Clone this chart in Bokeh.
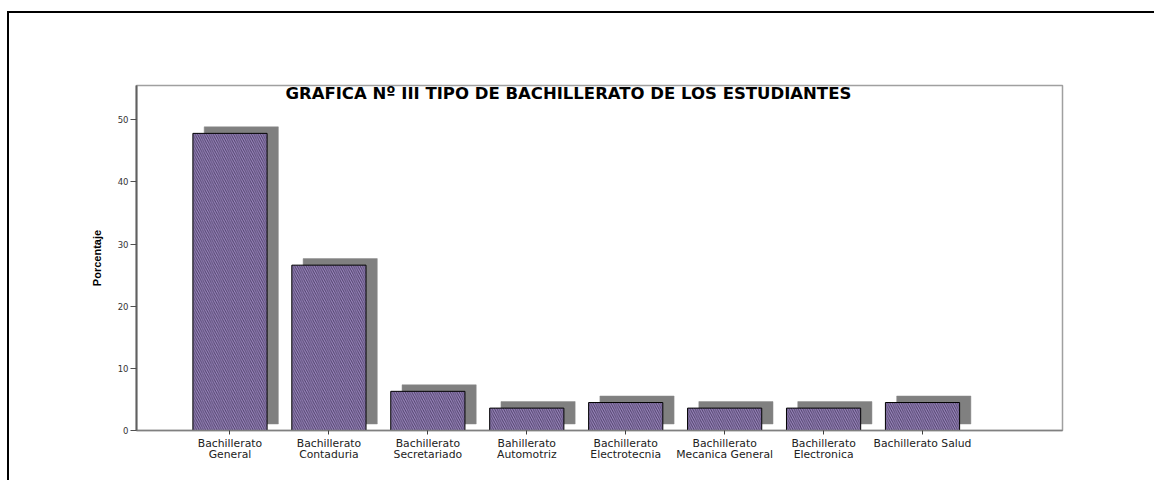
from bokeh.plotting import figure
from bokeh.models import Range1d, FixedTicker, Label, ColumnDataSource
from bokeh.transform import dodge
from bokeh.embed import file_html
from bokeh.resources import INLINE

categories = [
    "Bachillerato\nGeneral",
    "Bachillerato\nContaduria",
    "Bachillerato\nSecretariado",
    "Bahillerato\nAutomotriz",
    "Bachillerato\nElectrotecnia",
    "Bachillerato\nMecanica General",
    "Bachillerato\nElectronica",
    "Bachillerato Salud",
]
porcentaje = [47.8, 26.6, 6.3, 3.6, 4.5, 3.6, 3.6, 4.5]
y_ticks = [0, 10, 20, 30, 40, 50]
title_text = "GRAFICA Nº III TIPO DE BACHILLERATO DE LOS ESTUDIANTES"
y_label = "Porcentaje"

xs = list(range(len(categories)))
src = ColumnDataSource(dict(x=xs, pct=porcentaje, cat=categories))

p = figure(
    width=1147, height=469,
    output_backend="svg", toolbar_location=None,
    x_range=Range1d(-0.945, 8.415), y_range=Range1d(0, 55.5),
    min_border_left=127, min_border_right=94,
    min_border_top=72, min_border_bottom=52,
    background_fill_color="white", border_fill_color="white",
)
p.styles = {"border-top": "2px solid black", "border-left": "2px solid black",
            "margin-top": "11px", "margin-left": "7px"}

p.xgrid.visible = False
p.ygrid.visible = False
p.outline_line_color = "#a0a0a0"
p.outline_line_width = 1.5

# shadow bars
p.vbar(x=dodge("x", 0.114), top=dodge("pct", 1.05), bottom=1.05, width=0.75,
       source=src, fill_color="#808080", line_color="#8a8a8a", line_width=0.5)
# main bars
p.vbar(x="x", top="pct", bottom=0, width=0.75, source=src,
       fill_color="#a08cc4", line_color="black", line_width=1,
       hatch_pattern="\\", hatch_color="#4e4068", hatch_weight=1,
       hatch_scale=4.5)

p.xaxis.ticker = FixedTicker(ticks=xs)
p.xaxis.major_label_overrides = {i: c for i, c in zip(xs, categories)}
p.xaxis.major_label_text_font = "DejaVu Sans"
p.xaxis.major_label_text_font_size = "10.8px"
p.xaxis.major_label_text_color = "#222222"
p.xaxis.major_label_text_line_height = 0.9
p.xaxis.major_label_standoff = 2
p.xaxis.major_tick_in = 0
p.xaxis.major_tick_out = 4
p.xaxis.minor_tick_line_color = None
p.xaxis.axis_line_color = "#808080"
p.xaxis.axis_line_width = 1.5
p.xaxis.major_tick_line_color = "#404040"

p.yaxis.ticker = FixedTicker(ticks=y_ticks)
p.yaxis.major_label_text_font = "DejaVu Sans"
p.yaxis.major_label_text_font_size = "8.5px"
p.yaxis.major_label_text_color = "#333333"
p.yaxis.major_label_standoff = 2
p.yaxis.major_tick_in = 0
p.yaxis.major_tick_out = 6
p.yaxis.minor_tick_line_color = None
p.yaxis.axis_line_color = "#606060"
p.yaxis.axis_line_width = 2
p.yaxis.major_tick_line_color = "#505050"
p.yaxis.axis_label = y_label
p.yaxis.axis_label_text_font = "Liberation Sans"
p.yaxis.axis_label_text_font_style = "bold"
p.yaxis.axis_label_text_font_size = "11px"
p.yaxis.axis_label_text_color = "black"
p.yaxis.axis_label_standoff = 12

p.add_layout(Label(x=3.42, y=54.2, text=title_text, text_align="center",
                   text_baseline="middle", text_font="DejaVu Sans",
                   text_font_style="bold", text_font_size="16.5px",
                   text_color="black"))

open("out.html", "w").write(file_html(p, INLINE))
